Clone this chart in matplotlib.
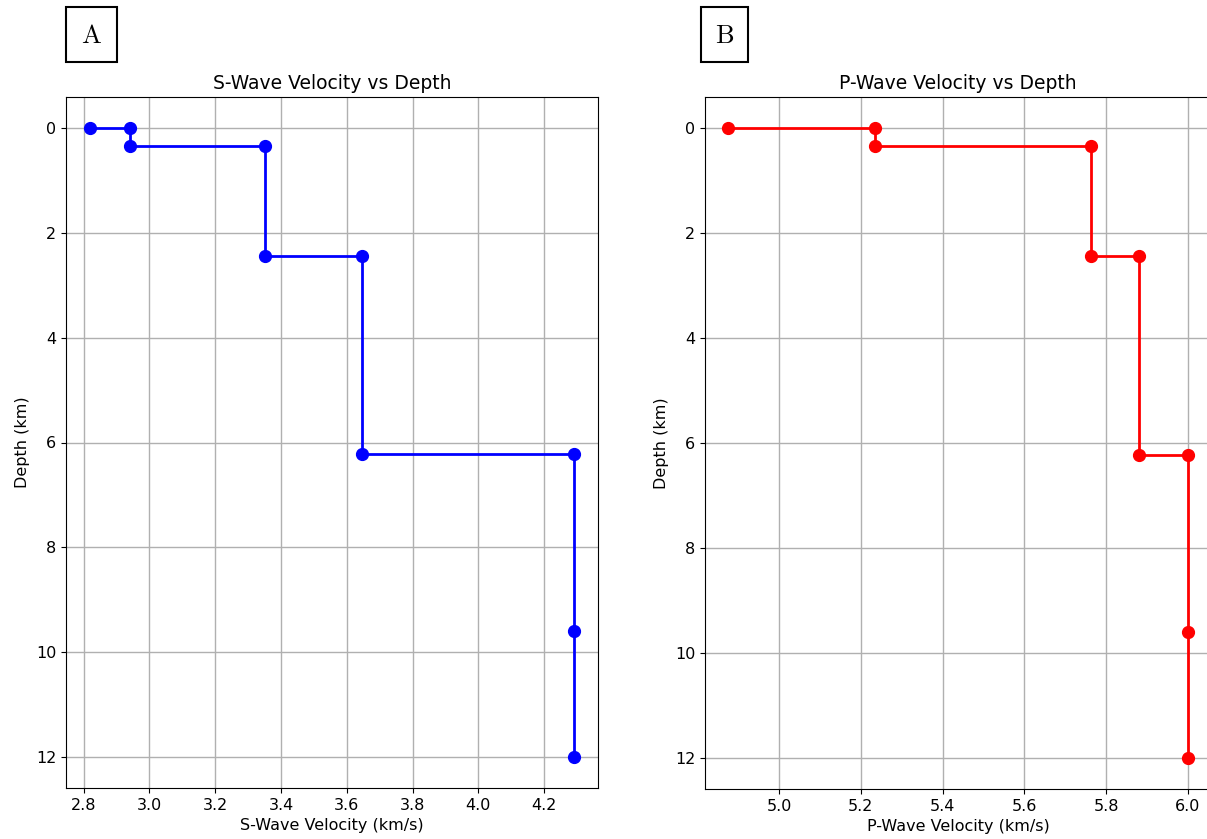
import matplotlib
matplotlib.use("Agg")
import matplotlib.pyplot as plt
from matplotlib.patches import Rectangle

# -----------------------------
# Data (step profile, velocity vs depth)
# -----------------------------
depth = [0.0, 0.0, 0.33, 0.33, 2.43, 2.43, 6.22, 6.22, 9.6, 12.0]
vs = [2.82, 2.94, 2.94, 3.35, 3.35, 3.645, 3.645, 4.29, 4.29, 4.29]
vp = [4.875, 5.235, 5.235, 5.763, 5.763, 5.88, 5.88, 6.0, 6.0, 6.0]

W, H = 1207, 839
fig = plt.figure(figsize=(W / 100, H / 100), dpi=100)
plt.rcParams["mathtext.fontset"] = "cm"


def px_axes(l, r, t, b):
    return fig.add_axes([l / W, 1 - b / H, (r - l) / W, (b - t) / H])


ax1 = px_axes(66, 598, 97, 788)
ax2 = px_axes(705, 1211, 97, 789)

panels = [
    (ax1, vs, "blue", "S-Wave Velocity vs Depth", "S-Wave Velocity (km/s)"),
    (ax2, vp, "red", "P-Wave Velocity vs Depth", "P-Wave Velocity (km/s)"),
]

for ax, v, c, title, xlabel in panels:
    ax.plot(v, depth, color=c, marker="o", markersize=8.5, linewidth=2)
    ax.invert_yaxis()
    ax.set_title(title, fontsize=13.5)
    ax.set_xlabel(xlabel, fontsize=11.5)
    ax.set_ylabel("Depth (km)", fontsize=11.5)
    ax.tick_params(labelsize=11.5)
    ax.grid(True, color="#b0b0b0", linewidth=1)

# -----------------------------
# Panel labels in boxes
# -----------------------------
for x0, x1, lab in [(66, 117, "A"), (701, 748, "B")]:
    fig.patches.append(Rectangle((x0 / W, 1 - 62 / H), (x1 - x0) / W, 55 / H,
                                 transform=fig.transFigure, fill=False,
                                 edgecolor="black", linewidth=1.5))
    fig.text((x0 + x1) / 2 / W, 1 - 36 / H, r"$\mathrm{%s}$" % lab,
             fontsize=19, ha="center", va="center")

plt.savefig("out.png", dpi=100)
plt.close()
